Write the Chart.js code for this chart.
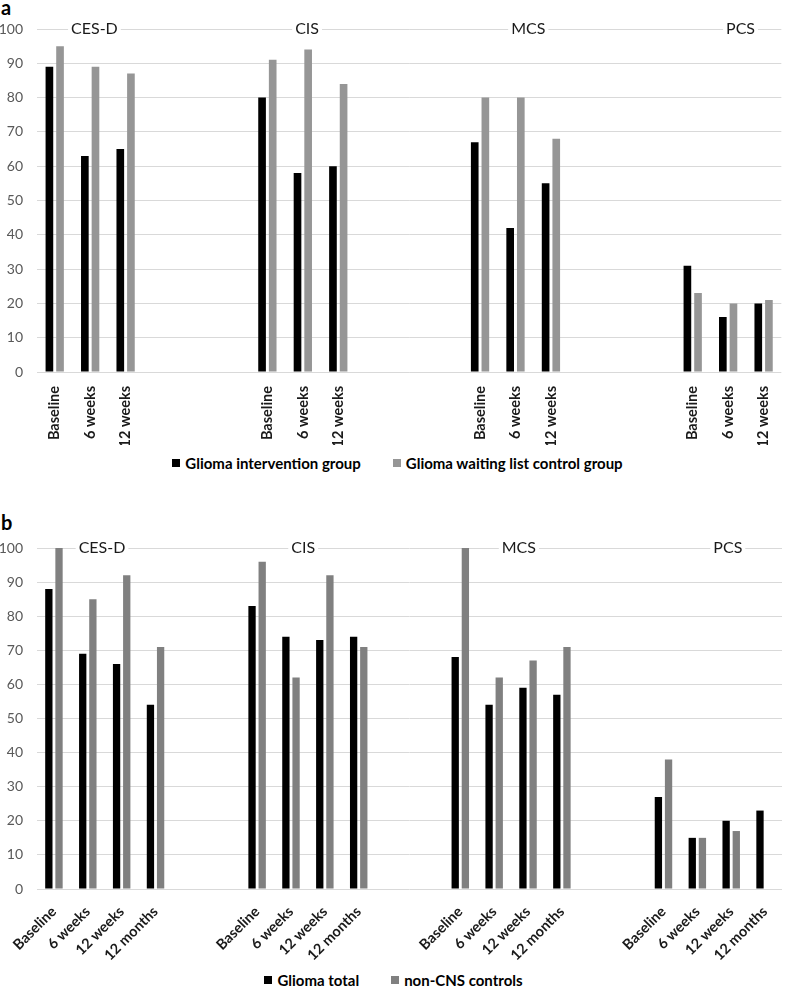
<!DOCTYPE html>
<html>
<head>
<meta charset="utf-8">
<script src="https://cdn.jsdelivr.net/npm/chart.js@4.4.1/dist/chart.umd.min.js"></script>
<style>
  body { margin: 0; background: #fff; font-family: Lato, "Open Sans", sans-serif; }
  #page { position: relative; width: 787px; height: 988px; overflow: hidden; }
  .panel { position: absolute; left: 0; width: 787px; }
  .letter { position: absolute; left: 1px; font-weight: bold; font-size: 20px; color: #000; }
  .legend { position: absolute; left: 0; width: 787px; display: flex; justify-content: center;
            font-weight: bold; font-size: 15px; color: #000; }
  .legend span { display: inline-flex; align-items: center; margin: 0 16px; }
  .legend i { display: inline-block; width: 8px; height: 8px; margin-right: 5px; }
</style>
</head>
<body>
<div id="page">
  <div class="letter" style="top:-5px;">a</div>
  <div class="panel" style="top:0; height:445px;"><canvas id="chartA"></canvas></div>
  <div class="legend" id="legendA" style="top:454px; padding-left:8px; box-sizing:border-box;"></div>

  <div class="letter" style="top:510px;">b</div>
  <div class="panel" style="top:480px; height:485px;"><canvas id="chartB"></canvas></div>
  <div class="legend" id="legendB" style="top:971px;"></div>
</div>
<script>
// Data
const groups = ["CES-D", "CIS", "MCS", "PCS"];
const yTicks = [0, 10, 20, 30, 40, 50, 60, 70, 80, 90, 100];

// panel a
const timesA = ["Baseline", "6 weeks", "12 weeks"];
const interventionA = [89, 63, 65, 80, 58, 60, 67, 42, 55, 31, 16, 20];
const waitingListA = [95, 89, 87, 91, 94, 84, 80, 80, 68, 23, 20, 21];

// panel b
const timesB = ["Baseline", "6 weeks", "12 weeks", "12 months"];
const gliomaTotalB = [88, 69, 66, 54, 83, 74, 73, 74, 68, 54, 59, 57, 27, 15, 20, 23];
const nonCnsB = [100, 85, 92, 71, 96, 62, 92, 71, 100, 62, 67, 71, 38, 15, 17, null];

const black = "#000000";
const greyA = "#969696";
const greyB = "#808080";
const gridColor = "#d9d9d9";

// spread values over category slots, leaving empty slots between groups
function withGaps(values, perGroup, gap) {
  const out = [];
  for (let g = 0; g < groups.length; g++) {
    for (let t = 0; t < perGroup; t++) out.push(values[g * perGroup + t]);
    if (g < groups.length - 1) for (let k = 0; k < gap; k++) out.push(null);
  }
  return out;
}
function labelsWithGaps(times, gap) {
  const out = [];
  for (let g = 0; g < groups.length; g++) {
    times.forEach(t => out.push(t));
    if (g < groups.length - 1) for (let k = 0; k < gap; k++) out.push("");
  }
  return out;
}

// group titles drawn over the top gridline
const groupTitles = {
  id: "groupTitles",
  afterDraw(chart, args, opts) {
    const ctx = chart.ctx;
    const x = chart.scales.x, y = chart.scales.y;
    ctx.save();
    ctx.font = "16px Lato, 'Open Sans', sans-serif";
    ctx.textAlign = "center";
    ctx.textBaseline = "middle";
    groups.forEach((g, i) => {
      const px = x.getPixelForValue(opts.pos[i]);
      const py = y.getPixelForValue(100);
      const w = ctx.measureText(g).width;
      ctx.fillStyle = "#fff";
      ctx.fillRect(px - w / 2 - 3, py - 2, w + 6, 4);
      ctx.fillStyle = "#1a1a1a";
      ctx.fillText(g, px, py);
    });
    ctx.restore();
  }
};

function makeChart(id, labels, sets, rotation, axisHeight, padTop, padRight, titlePos) {
  return new Chart(document.getElementById(id), {
    type: "bar",
    data: { labels: labels, datasets: sets },
    options: {
      responsive: true,
      maintainAspectRatio: false,
      animation: false,
      layout: { padding: { top: padTop, right: padRight, left: 0, bottom: 0 } },
      plugins: { legend: { display: false }, tooltip: { enabled: false }, groupTitles: { pos: titlePos } },
      scales: {
        x: {
          grid: { display: false },
          border: { display: false },
          ticks: {
            autoSkip: false, minRotation: rotation, maxRotation: rotation, padding: 6,
            color: "#1a1a1a", font: { family: "Lato, 'Open Sans', sans-serif", size: 14.5, weight: "bold" }
          },
          afterFit(scale) { scale.height = axisHeight; }
        },
        y: {
          min: 0, max: 100,
          afterBuildTicks(scale) { scale.ticks = yTicks.map(v => ({ value: v })); },
          grid: { color: gridColor, drawTicks: false },
          border: { display: false },
          ticks: { padding: 14, color: "#595959", font: { family: "Lato, 'Open Sans', sans-serif", size: 14 } },
          afterFit(scale) { scale.width = 37; }
        }
      }
    },
    plugins: [groupTitles]
  });
}

const barOpts = { categoryPercentage: 0.6, barPercentage: 0.72 };

makeChart("chartA", labelsWithGaps(timesA, 3), [
  Object.assign({ label: "Glioma intervention group", data: withGaps(interventionA, 3, 3), backgroundColor: black }, barOpts),
  Object.assign({ label: "Glioma waiting list control group", data: withGaps(waitingListA, 3, 3), backgroundColor: greyA }, barOpts)
], 90, 73, 29, 0, [1.12, 7.12, 13.36, 19.35]);

makeChart("chartB", labelsWithGaps(timesB, 2), [
  Object.assign({ label: "Glioma total", data: withGaps(gliomaTotalB, 4, 2), backgroundColor: black }, barOpts),
  Object.assign({ label: "non-CNS controls", data: withGaps(nonCnsB, 4, 2), backgroundColor: greyB }, barOpts)
], 45, 76, 68, 5, [1.42, 7.36, 13.73, 19.9]);

function legend(id, items) {
  document.getElementById(id).innerHTML = items
    .map(it => `<span><i style="background:${it[1]}"></i>${it[0]}</span>`).join("");
}
legend("legendA", [["Glioma intervention group", black], ["Glioma waiting list control group", greyA]]);
legend("legendB", [["Glioma total", black], ["non-CNS controls", greyB]]);
</script>
</body>
</html>
